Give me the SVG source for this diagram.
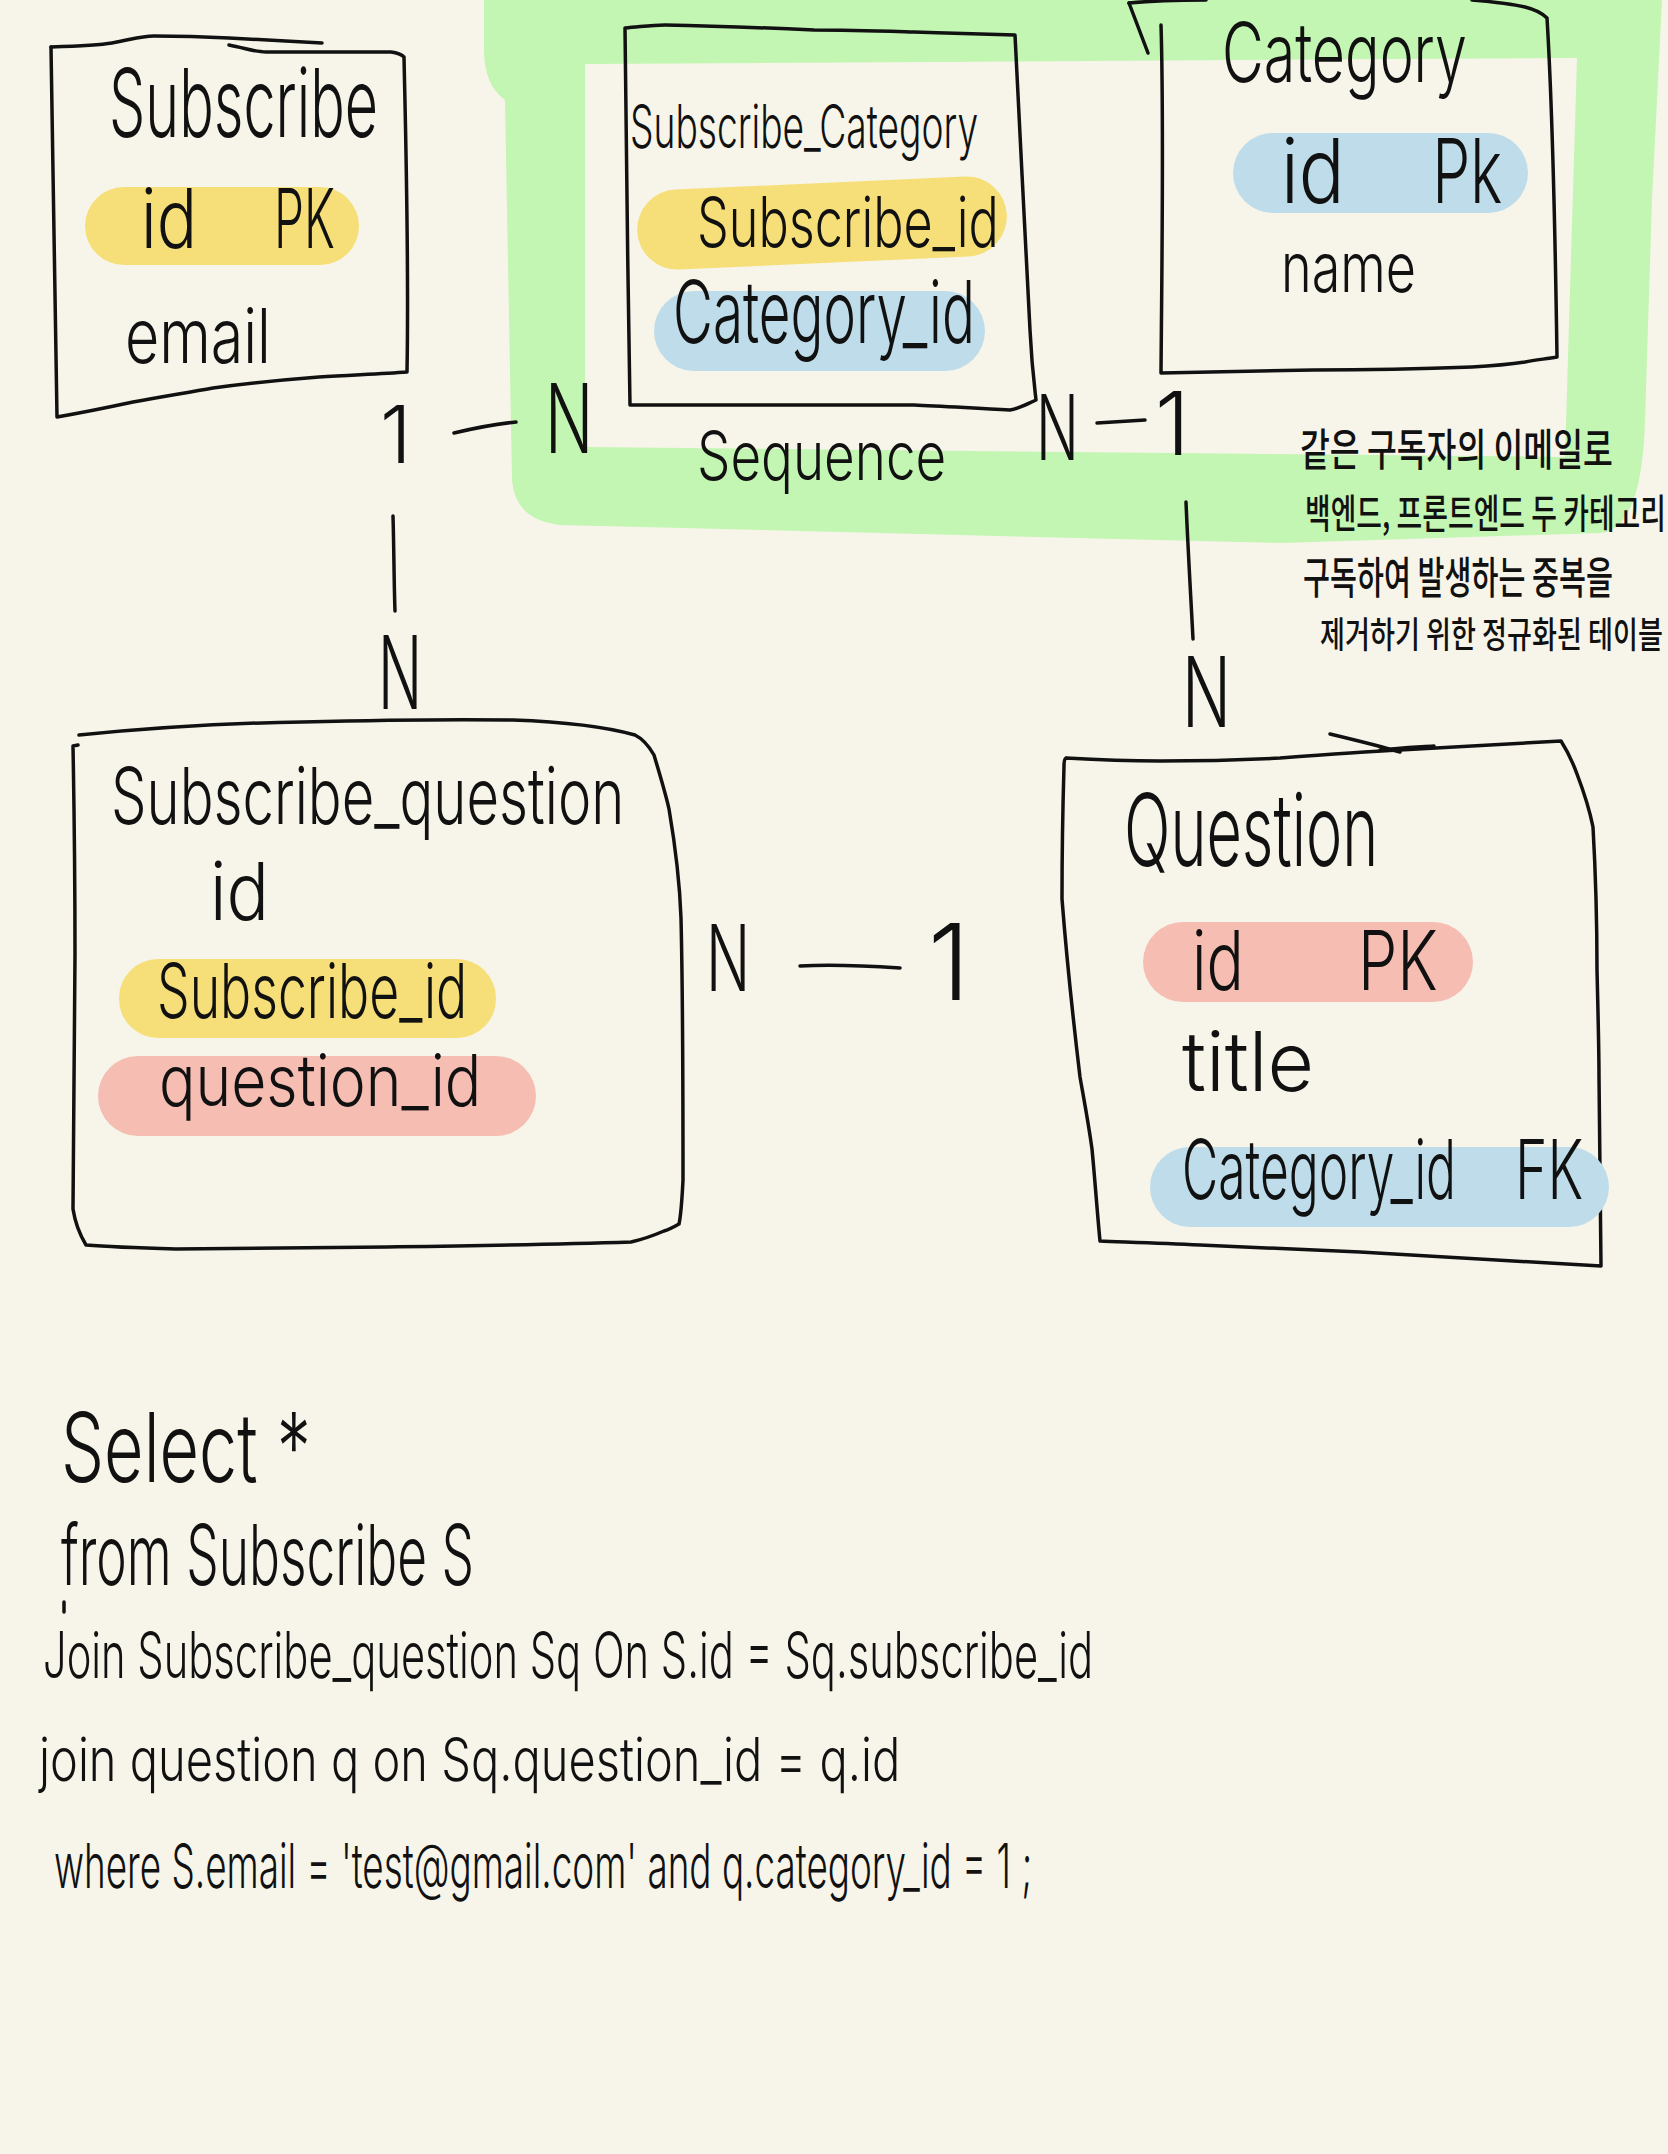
<svg xmlns="http://www.w3.org/2000/svg" width="1668" height="2154" viewBox="0 0 1668 2154">
<style>
.box{fill:none;stroke:#111;stroke-width:3.5;stroke-linecap:round;stroke-linejoin:round}
.ln{fill:none;stroke:#111;stroke-width:3.5;stroke-linecap:round}
.hw{font-family:Inter,"Liberation Sans",sans-serif;font-weight:300;fill:#111}
.ko{font-family:"Noto Sans CJK KR","Noto Sans",sans-serif;font-weight:500;fill:#111}
.y{fill:#F6DF78}.b{fill:#BEDCEA}.r{fill:#F6BDB3}
</style>
<rect width="1668" height="2154" fill="#F7F5E9"/>
<path id="green-highlight" fill="#C3F5B3" fill-rule="evenodd" d="M484,0 L1662,0 L1652,200 L1645,420 Q1642,530 1600,533 L1280,543 L560,525 Q515,520 512,480 L505,100 Q484,85 484,50 Z M585,64 L1577,58 L1565,457 L585,447 Z"/>

<g id="node-subscribe">
<path class="box" d="M51,47 C80,46 100,45 112,43 C130,40 140,36 154,36 C190,36 210,37 229,38 C270,40 300,42 322,43"/>
<path class="box" d="M229,45 C245,48 255,52 266,52 C320,52 360,52 391,52 C398,53 402,55 404,57 C406,150 409,260 407,372 C380,374 350,375 319,377 C280,380 250,383 213,388 C185,393 160,397 133,402 C105,408 80,413 57,417 C55,300 53,170 51,47"/>
<rect class="y" x="85" y="187" width="274" height="78" rx="39"/>
<text class="hw" transform="translate(109,137) scale(0.606,1)" font-size="95" textLength="444" lengthAdjust="spacingAndGlyphs">Subscribe</text>
<text class="hw" transform="translate(141,248) scale(0.7,1)" font-size="82"><tspan x="0" textLength="80" lengthAdjust="spacingAndGlyphs">id</tspan> <tspan x="190" textLength="87" lengthAdjust="spacingAndGlyphs">PK</tspan></text>
<text class="hw" transform="translate(125,363) scale(0.776,1)" font-size="76" textLength="188" lengthAdjust="spacingAndGlyphs">email</text>
</g>

<g id="node-subscribe-category">
<path class="box" d="M625,28 C640,27 650,25 665,25 C720,26 770,28 814,30 C850,30 880,31 914,32 C950,33 990,34 1015,35 C1020,120 1025,250 1030,330 C1032,370 1035,390 1036,400 C1025,405 1018,409 1010,410 C970,408 940,406 914,405 C830,405 720,405 630,405 C628,280 626,150 625,28"/>
<rect class="y" x="637" y="183" width="370" height="80" rx="40" transform="rotate(-2.6 822 223)"/>
<rect class="b" x="654" y="291" width="331" height="80" rx="40"/>
<text class="hw" transform="translate(630,148) scale(0.614,1)" font-size="60" textLength="567" lengthAdjust="spacingAndGlyphs">Subscribe_Category</text>
<text class="hw" transform="translate(697,247) scale(0.717,1)" font-size="70" textLength="421" lengthAdjust="spacingAndGlyphs">Subscribe_id</text>
<text class="hw" transform="translate(673,343) scale(0.625,1)" font-size="86" textLength="483" lengthAdjust="spacingAndGlyphs">Category_id</text>
</g>
<text id="label-sequence" class="hw" transform="translate(697,480) scale(0.786,1)" font-size="68" textLength="317" lengthAdjust="spacingAndGlyphs">Sequence</text>

<g id="node-category">
<path class="box" d="M1129,3 L1148,53"/>
<path class="box" d="M1129,3 C1150,1 1180,0 1206,0 M1472,0 C1495,2 1512,4 1525,7 C1537,10 1543,14 1547,18 C1552,100 1555,220 1557,357 C1545,359 1535,360 1525,362 C1505,365 1490,366 1472,367 C1420,369 1360,370 1313,370 C1260,371 1210,372 1161,373 C1162,250 1164,120 1161,25"/>
<rect class="b" x="1233" y="133" width="295" height="80" rx="40"/>
<text class="hw" transform="translate(1222,82) scale(0.698,1)" font-size="82" textLength="351" lengthAdjust="spacingAndGlyphs">Category</text>
<text class="hw" transform="translate(1281,203) scale(0.7,1)" font-size="90"><tspan x="0" textLength="91" lengthAdjust="spacingAndGlyphs">id</tspan> <tspan x="216" textLength="100" lengthAdjust="spacingAndGlyphs">Pk</tspan></text>
<text class="hw" transform="translate(1281,292) scale(0.7,1)" font-size="70" textLength="193" lengthAdjust="spacingAndGlyphs">name</text>
</g>

<g id="note-korean" class="ko">
<text transform="translate(1300,466) scale(0.68,1)" font-size="44" textLength="460" lengthAdjust="spacingAndGlyphs">같은 구독자의 이메일로</text>
<text transform="translate(1305,528) scale(0.648,1)" font-size="40" textLength="557" lengthAdjust="spacingAndGlyphs">백엔드, 프론트엔드 두 카테고리</text>
<text transform="translate(1303,594) scale(0.615,1)" font-size="44" textLength="504" lengthAdjust="spacingAndGlyphs">구독하여 발생하는 중복을</text>
<text transform="translate(1320,648) scale(0.697,1)" font-size="36" textLength="492" lengthAdjust="spacingAndGlyphs">제거하기 위한 정규화된 테이블</text>
</g>

<g id="node-subscribe-question">
<path class="box" d="M79,735 C150,728 230,723 302,722 C380,720 450,719 513,720 C570,722 610,728 635,735 C645,740 650,748 654,755 C660,775 666,795 669,809 C676,850 680,890 681,918 C683,1000 683,1100 683,1180 C682,1200 681,1215 679,1224 C672,1228 668,1230 664,1231 C650,1237 640,1240 631,1242 C540,1245 460,1246 387,1247 C300,1248 230,1249 176,1249 C140,1248 110,1247 86,1245 C80,1235 75,1222 73,1209 C74,1100 75,1000 75,955 C75,880 74,800 73,746 L78,745"/>
<rect class="y" x="119" y="959" width="377" height="79" rx="39"/>
<rect class="r" x="98" y="1056" width="438" height="80" rx="40"/>
<text class="hw" transform="translate(111,824) scale(0.715,1)" font-size="78" textLength="718" lengthAdjust="spacingAndGlyphs">Subscribe_question</text>
<text class="hw" transform="translate(210,920) scale(0.855,1)" font-size="80" textLength="69" lengthAdjust="spacingAndGlyphs">id</text>
<text class="hw" transform="translate(157,1018) scale(0.645,1)" font-size="76" textLength="481" lengthAdjust="spacingAndGlyphs">Subscribe_id</text>
<text class="hw" transform="translate(159,1106) scale(0.79,1)" font-size="72" textLength="408" lengthAdjust="spacingAndGlyphs">question_id</text>
</g>

<g id="node-question">
<path class="box" d="M1066,758 C1100,760 1130,761 1160,761 C1200,761 1240,760 1280,758 C1320,755 1360,752 1400,750 C1460,747 1510,744 1561,741 C1568,752 1573,763 1577,774 C1585,795 1590,812 1593,827 C1596,880 1597,930 1597,970 C1598,1010 1599,1050 1599,1077 C1600,1150 1601,1220 1601,1266 C1520,1262 1440,1257 1360,1252 C1300,1249 1250,1247 1200,1245 C1160,1243 1125,1242 1100,1241 C1097,1210 1095,1180 1092,1149 C1088,1120 1084,1100 1080,1077 C1072,1010 1066,950 1062,899 C1062,850 1063,800 1064,766 Q1064,759 1066,758"/>
<path class="box" d="M1330,734 C1355,740 1380,746 1400,752 M1380,750 C1400,748 1420,747 1434,746"/>
<rect class="r" x="1143" y="922" width="330" height="80" rx="40"/>
<rect class="b" x="1150" y="1147" width="459" height="80" rx="40"/>
<text class="hw" transform="translate(1124,866) scale(0.608,1)" font-size="100" textLength="418" lengthAdjust="spacingAndGlyphs">Question</text>
<text class="hw" transform="translate(1192,990) scale(0.7,1)" font-size="82"><tspan x="0" textLength="74" lengthAdjust="spacingAndGlyphs">id</tspan> <tspan x="237" textLength="114" lengthAdjust="spacingAndGlyphs">PK</tspan></text>
<text class="hw" transform="translate(1182,1091) scale(0.91,1)" font-size="82" textLength="145" lengthAdjust="spacingAndGlyphs">title</text>
<text class="hw" transform="translate(1182,1199) scale(0.62,1)" font-size="82"><tspan x="0" textLength="442" lengthAdjust="spacingAndGlyphs">Category_id</tspan> <tspan x="537" textLength="110" lengthAdjust="spacingAndGlyphs">FK</tspan></text>
</g>

<g id="connectors">
<path class="ln" d="M454,433 C475,428 495,424 516,422"/>
<path class="ln" d="M1097,423 C1115,422 1130,421 1145,420"/>
<path class="ln" d="M393,516 C394,550 394,585 395,611"/>
<path class="ln" d="M1186,502 C1188,550 1191,600 1193,639"/>
<path class="ln" d="M800,966 C835,964 870,966 900,968"/>
</g>

<g id="cardinalities" class="hw">
<text x="380" y="463" font-size="80">1</text>
<text transform="translate(545,453) scale(0.68,1)" font-size="96" textLength="71" lengthAdjust="spacingAndGlyphs">N</text>
<text transform="translate(1036,460) scale(0.68,1)" font-size="90" textLength="63" lengthAdjust="spacingAndGlyphs">N</text>
<text x="1155" y="455" font-size="88">1</text>
<text transform="translate(378,709) scale(0.68,1)" font-size="102" textLength="65" lengthAdjust="spacingAndGlyphs">N</text>
<text transform="translate(1182,727) scale(0.68,1)" font-size="98" textLength="72" lengthAdjust="spacingAndGlyphs">N</text>
<text transform="translate(706,991) scale(0.68,1)" font-size="92" textLength="65" lengthAdjust="spacingAndGlyphs">N</text>
<text x="928" y="1000" font-size="106">1</text>
</g>

<g id="sql" class="hw">
<text transform="translate(61,1482) scale(0.70,1)" font-size="96" textLength="357" lengthAdjust="spacingAndGlyphs">Select *</text>
<text transform="translate(61,1585) scale(0.61,1)" font-size="84" textLength="677" lengthAdjust="spacingAndGlyphs">from Subscribe S</text>
<line class="ln" x1="64" y1="1602" x2="64" y2="1612" stroke-width="2"/>
<text transform="translate(43,1678) scale(0.653,1)" font-size="64" textLength="1608" lengthAdjust="spacingAndGlyphs">Join Subscribe_question Sq On S.id = Sq.subscribe_id</text>
<text transform="translate(39,1781) scale(0.783,1)" font-size="60" textLength="1100" lengthAdjust="spacingAndGlyphs">join question q on Sq.question_id = q.id</text>
<text transform="translate(54,1888) scale(0.595,1)" font-size="62" textLength="1644" lengthAdjust="spacingAndGlyphs">where S.email = 'test@gmail.com' and q.category_id = 1 ;</text>
</g>
</svg>
